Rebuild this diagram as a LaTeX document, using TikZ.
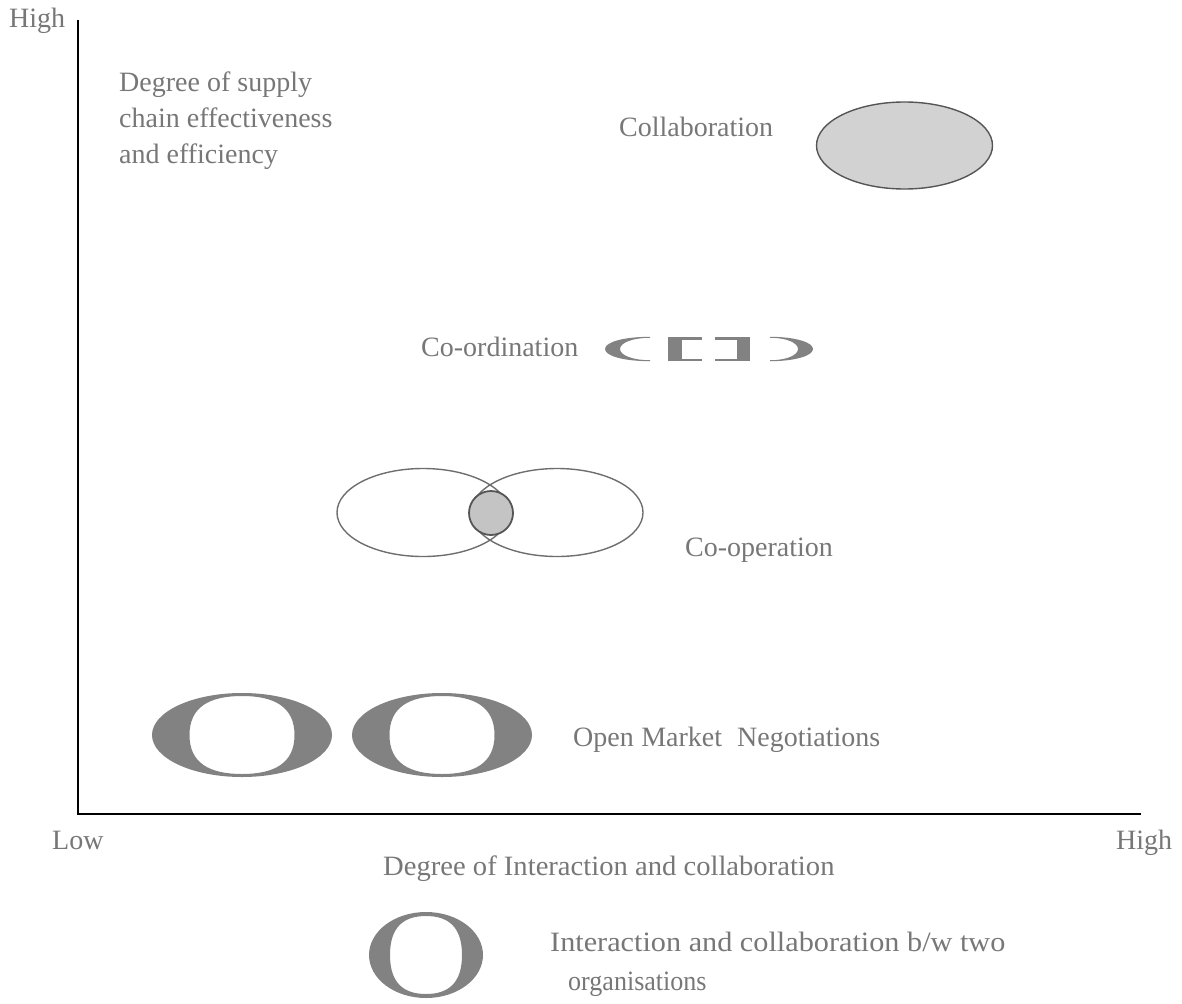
\documentclass[tikz,border=0pt]{standalone}
\usepackage{graphicx}
\usepackage{fontspec}
\setmainfont{Liberation Serif}
\definecolor{txtgray}{HTML}{777777}
\definecolor{ogray}{HTML}{828282}
\definecolor{lightfill}{HTML}{D2D2D2}
\definecolor{circfill}{HTML}{C4C4C4}
\definecolor{edgegray}{HTML}{555555}
% bold "O" glyph-like ring: cx, cy, outer rx, outer ry, inner half-width, inner half-height
\newcommand\ringO[6]{%
  \fill[ogray, even odd rule] (#1,#2) ellipse [x radius=#3pt, y radius=#4pt]
    (#1+#5,#2) .. controls (#1+#5,#2-0.72*#6) and (#1+0.62*#5,#2-#6) .. (#1,#2-#6)
    .. controls (#1-0.62*#5,#2-#6) and (#1-#5,#2-0.72*#6) .. (#1-#5,#2)
    .. controls (#1-#5,#2+0.72*#6) and (#1-0.62*#5,#2+#6) .. (#1,#2+#6)
    .. controls (#1+0.62*#5,#2+#6) and (#1+#5,#2+0.72*#6) .. (#1+#5,#2) -- cycle;}
\begin{document}
\begin{tikzpicture}[x=1pt,y=-1pt,
  lbl/.style={text=txtgray, font=\fontsize{28}{36}\selectfont, inner sep=0pt, anchor=base west},
  axisline/.style={black, line width=2.6pt},
  thinedge/.style={draw=edgegray, line width=1.4pt},
]
\useasboundingbox (0,0) rectangle (1182,1003);

% axes
\coordinate (ytop) at (78,20);
\coordinate (origin) at (78,814);
\coordinate (xend) at (1141,814);
\draw[axisline] (ytop) -- (origin) -- (xend);

% axis labels
\node[lbl] (yhigh) at (9,28) {High};
\node[lbl] (xlow) at (52,849) {Low};
\node[lbl] (xhigh) at (1116,849) {High};
\node[lbl] (ylab1) at (119,92) {Degree of supply};
\node[lbl] (ylab2) at (119,128) {chain effectiveness};
\node[lbl] (ylab3) at (119,164) {and efficiency};
\node[lbl] (xlab) at (383,875) {\scalebox{1.022}[1]{Degree of Interaction and collaboration}};

% Collaboration
\node[lbl] (collab) at (619,137) {Collaboration};
\filldraw[fill=lightfill, thinedge] (904.5,145.5) ellipse [x radius=88pt, y radius=43.5pt];

% Co-ordination
\node[lbl] (coord) at (421,356) {Co-ordination};
\fill[ogray] (650,336.8) .. controls (624,336.8) and (605,342) .. (605,349)
  .. controls (605,356) and (624,361.2) .. (650,361.2) -- (650,360.2)
  .. controls (632,360.2) and (620,355) .. (620,349)
  .. controls (620,343) and (632,337.8) .. (650,337.8) -- cycle;
\fill[ogray] (668,337) rectangle (682,361);
\fill[ogray] (668,337) rectangle (702,339.5);
\fill[ogray] (668,358.5) rectangle (702,361);
\fill[ogray] (737,337) rectangle (750,361);
\fill[ogray] (715,337) rectangle (750,339.5);
\fill[ogray] (715,358.5) rectangle (750,361);
\fill[ogray] (770,336.8) .. controls (794,336.8) and (813,342) .. (813,349)
  .. controls (813,356) and (794,361.2) .. (770,361.2) -- (770,360.2)
  .. controls (787,360.2) and (798,355) .. (798,349)
  .. controls (798,343) and (787,337.8) .. (770,337.8) -- cycle;

% Co-operation
\draw[thinedge, draw=edgegray!85] (423,512.5) ellipse [x radius=86pt, y radius=44pt];
\draw[thinedge, draw=edgegray!85] (557,512.5) ellipse [x radius=86pt, y radius=44pt];
\filldraw[fill=circfill, draw=edgegray, line width=1.8pt] (491,513) circle [radius=22pt];
\node[lbl] (coop) at (685,556) {Co-operation};

% Open market negotiations
\ringO{242}{735}{90}{42}{52.5}{39}
\ringO{442}{735}{90}{42}{52.5}{39}
\node[lbl] (omn) at (573,746) {\makebox[307pt][s]{Open Market\ \ Negotiations}};

% legend
\ringO{426}{955}{57}{43}{36}{39}
\node[lbl] (leg1) at (550,951) {\scalebox{1.08}[1]{Interaction and collaboration b/w two}};
\node[lbl] (leg2) at (568,990) {\scalebox{0.93}[1]{organisations}};
\end{tikzpicture}
\end{document}
